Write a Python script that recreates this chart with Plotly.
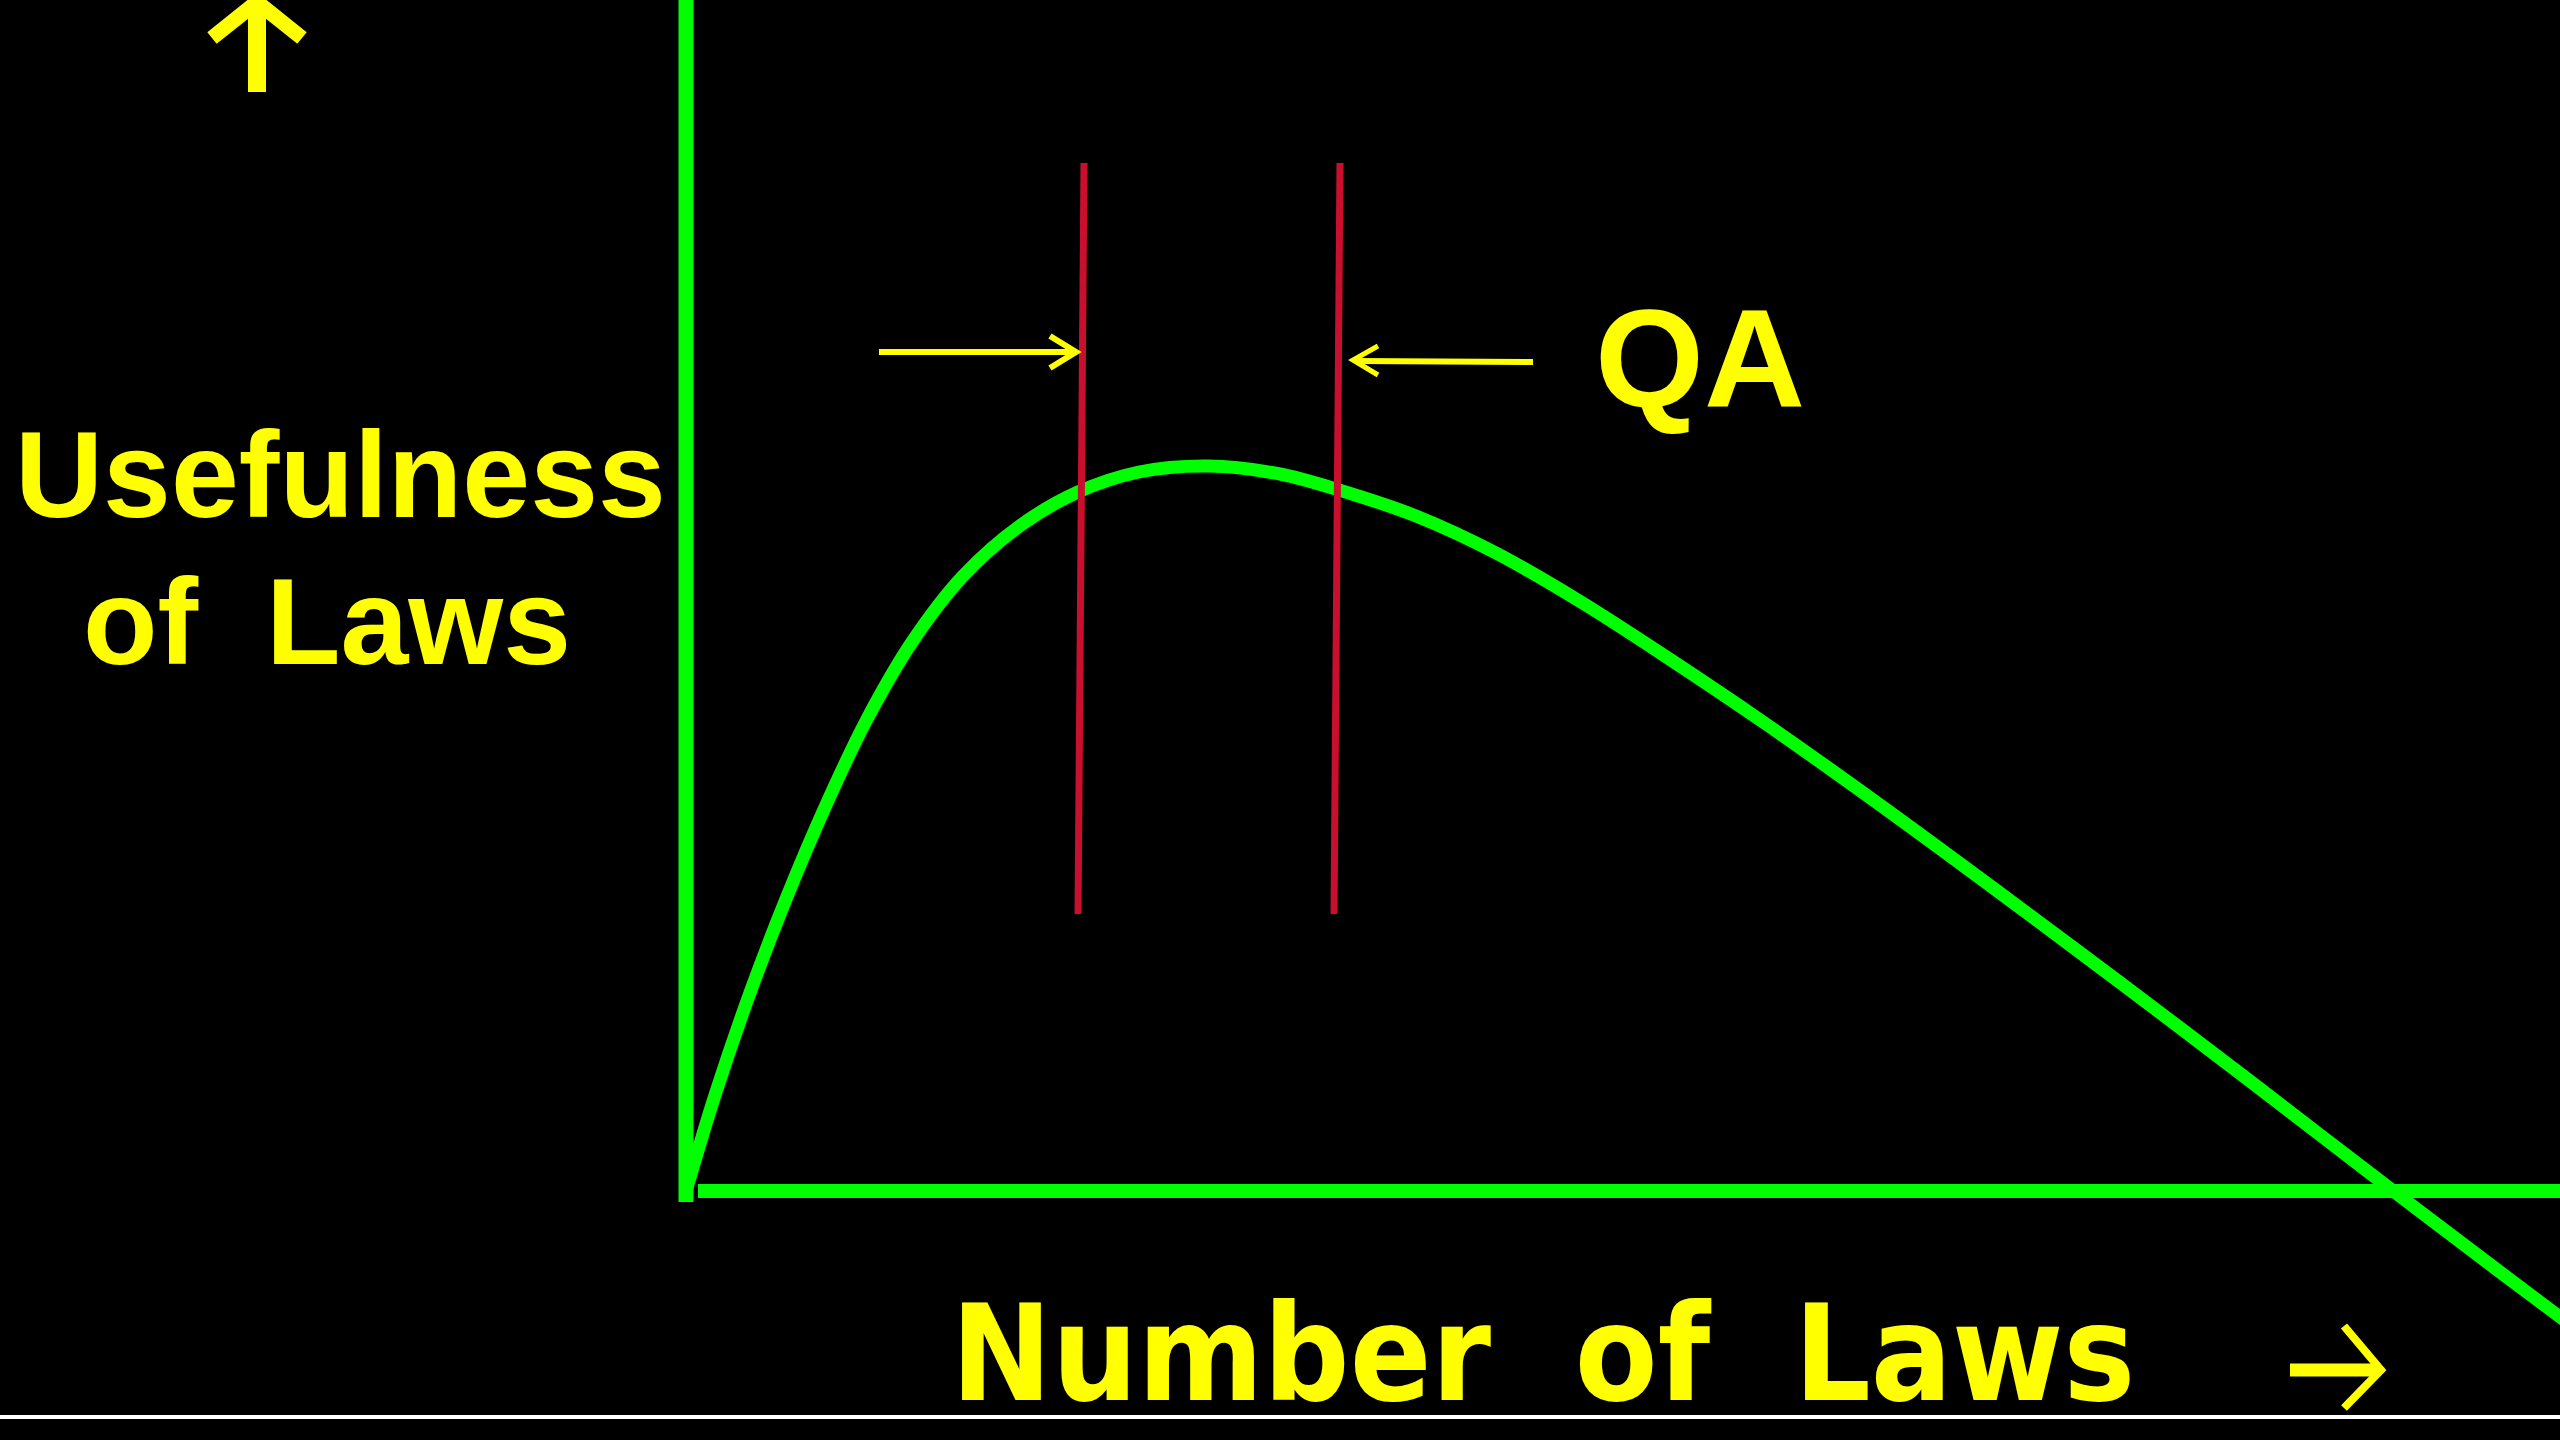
import plotly.graph_objects as go

# curve: number of laws vs usefulness (arbitrary units, origin at the axes corner)
laws = [0.00, 0.30, 0.65, 1.00, 1.40, 1.80, 2.26, 2.77, 3.35, 3.92, 4.53, 5.22,
        5.94, 6.53, 7.30, 8.10, 8.95, 9.85, 10.80, 11.90, 13.10, 14.36, 15.60,
        16.85, 18.10, 19.10]
usefulness = [0.00, 0.99, 2.01, 2.92, 3.86, 4.70, 5.49, 6.15, 6.66, 6.99, 7.19, 7.25,
              7.17, 7.01, 6.75, 6.38, 5.89, 5.31, 4.67, 3.89, 3.01, 2.07, 1.13,
              0.17, -0.78, -1.53]

# QA band: left and right limits (top x, bottom x) and vertical extent
qa_left = [3.98, 3.92]
qa_right = [6.54, 6.48]
qa_span = [2.77, 10.28]

W, H = 2560, 1440
OX, OY = 686, 1191  # pixel position of the origin
SCALE = 100.0

GREEN = "#00FF00"
YELLOW = "#FFFF00"
RED = "#C8102E"


def dx(px):
    return (px - OX) / SCALE


def dy(py):
    return (OY - py) / SCALE


def poly(points):
    return "M " + " L ".join(f"{dx(x)},{dy(y)}" for x, y in points)


fig = go.Figure()

fig.add_trace(
    go.Scatter(
        x=laws,
        y=usefulness,
        mode="lines",
        line={"color": GREEN, "width": 13, "shape": "spline", "smoothing": 1.0},
        hoverinfo="skip",
        showlegend=False,
    )
)


def seg(points, width):
    return {"type": "path", "path": poly(points), "line": {"color": YELLOW, "width": width}}


shapes = [
    # axes
    {"type": "line", "x0": 0, "x1": 0, "y0": dy(1202), "y1": dy(-20),
     "line": {"color": GREEN, "width": 15}},
    {"type": "line", "x0": dx(698), "x1": dx(W + 20), "y0": 0, "y1": 0,
     "line": {"color": GREEN, "width": 14}},
    # QA limits
    {"type": "line", "x0": qa_left[0], "x1": qa_left[1], "y0": qa_span[1], "y1": qa_span[0],
     "line": {"color": RED, "width": 7}},
    {"type": "line", "x0": qa_right[0], "x1": qa_right[1], "y0": qa_span[1], "y1": qa_span[0],
     "line": {"color": RED, "width": 7}},
    # white rule at the bottom
    {"type": "line", "x0": dx(-20), "x1": dx(W + 20), "y0": dy(1417), "y1": dy(1417),
     "line": {"color": "white", "width": 4}},
    # up arrow (y label)
    seg([(257, 92), (257, 6)], 18),
    seg([(212, 38), (257, 2), (302, 38)], 15),
    # right arrow (x label)
    seg([(2290, 1370), (2376, 1370)], 13),
    seg([(2344, 1326), (2381, 1370), (2344, 1408)], 8),
    # QA pointer arrows
    seg([(879, 352), (1074, 352)], 6),
    seg([(1050, 336), (1076, 352), (1050, 368)], 6),
    seg([(1533, 362), (1356, 361)], 6),
    seg([(1378, 346), (1353, 360), (1378, 375)], 5),
]

big = {"family": "Liberation Sans, Arial, sans-serif", "color": YELLOW, "weight": "bold"}

annotations = [
    dict(x=dx(340), y=dy(475), text="Usefulness", showarrow=False,
         xanchor="center", yanchor="middle", font={**big, "size": 122}),
    dict(x=dx(327), y=dy(622), text="of\u00a0\u00a0Laws", showarrow=False,
         xanchor="center", yanchor="middle", font={**big, "size": 122}),
    dict(x=dx(1700), y=dy(358), text="QA", showarrow=False,
         xanchor="center", yanchor="middle", font={**big, "size": 140}),
    dict(x=dx(1543), y=dy(1354), text="Number\u00a0\u00a0of\u00a0\u00a0Laws", showarrow=False,
         xanchor="center", yanchor="middle",
         font={"family": "DejaVu Sans Condensed, DejaVu Sans, sans-serif", "color": YELLOW,
               "weight": "bold", "size": 134}),
]

fig.update_layout(
    width=W,
    height=H,
    margin={"l": 0, "r": 0, "t": 0, "b": 0, "pad": 0},
    paper_bgcolor="black",
    plot_bgcolor="black",
    xaxis={"range": [dx(0), dx(W)], "visible": False, "fixedrange": True},
    yaxis={"range": [dy(H), dy(0)], "visible": False, "fixedrange": True},
    shapes=shapes,
    annotations=annotations,
    showlegend=False,
)

fig.write_html("out.html", config={"displayModeBar": False},
               post_script="document.body.style.margin='0';")
